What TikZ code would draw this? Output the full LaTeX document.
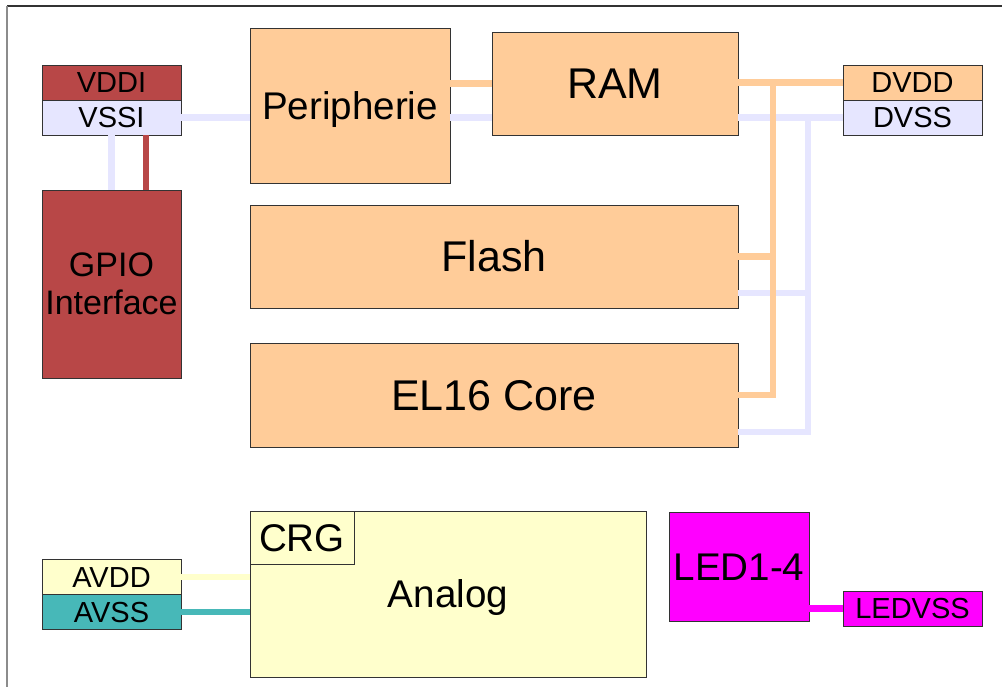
\documentclass[tikz,border=0pt]{standalone}
\usepackage{fontspec}
\setmainfont{Liberation Sans}
\usepackage{tikz}
\usetikzlibrary{calc}
\definecolor{chiporange}{HTML}{FFCC99}
\definecolor{chipred}{HTML}{B84747}
\definecolor{chipblue}{HTML}{E6E6FF}
\definecolor{chipyellow}{HTML}{FFFFCC}
\definecolor{chipteal}{HTML}{47B8B8}
\definecolor{chipmagenta}{HTML}{FF00FF}

\begin{document}
\begin{tikzpicture}[x=1pt, y=-1pt,
  blk/.style={draw=black!80, line width=0.9pt, inner sep=0pt, text depth=0pt},
  pad/.style={blk, minimum width=139pt, minimum height=35pt, font=\fontsize{29}{34}\selectfont, text height=20.8pt},
  midtxt/.style={font=\fontsize{38.6}{44}\selectfont, text height=27.6pt},
  bigtxt/.style={font=\fontsize{43}{50}\selectfont, text height=30.8pt},
  wire/.style={line width=6.5pt}]
  \useasboundingbox (0,0) rectangle (1002,687);
  \draw[black!80, line width=1.3pt] (7,6) -- (1002,6);
  \draw[black!45, line width=1.3pt] (7,6) -- (7,687);

  \node[pad, fill=chipred] (vddi) at (111.5,82.5) {VDDI};
  \node[pad, fill=chipblue] (vssi) at (111.5,117.5) {VSSI};
  \node[blk, fill=chipred, minimum width=139pt, minimum height=188pt, text depth={}, align=center, font=\fontsize{34}{38}\selectfont] (gpio) at (111.5,284) {GPIO\\Interface};
  \node[blk, fill=chiporange, minimum width=200pt, minimum height=155pt, midtxt] (peri) at (350,105.5) {Peripherie};
  \node[blk, fill=chiporange, minimum width=246pt, minimum height=103pt, bigtxt] (ram) at (615,83.5) {RAM};
  \node[pad, fill=chiporange] (dvdd) at (912.5,82.5) {DVDD};
  \node[pad, fill=chipblue] (dvss) at (912.5,117.5) {DVSS};
  \node[blk, fill=chiporange, minimum width=488pt, minimum height=103pt, bigtxt] (flash) at (494,256.5) {Flash};
  \node[blk, fill=chiporange, minimum width=488pt, minimum height=104pt, bigtxt] (core) at (494,395) {EL16 Core};

  \node[pad, fill=chipyellow] (avdd) at (111.5,577) {AVDD};
  \node[pad, fill=chipteal] (avss) at (111.5,612) {AVSS};
  \node[blk, fill=chipyellow, minimum width=396pt, minimum height=166pt, midtxt] (analog) at (448,594) {Analog};
  \node[blk, fill=chipyellow, minimum width=104pt, minimum height=53pt, midtxt, anchor=north west] (crg) at (analog.north west) {CRG};
  \node[blk, fill=chipmagenta, minimum width=140pt, minimum height=109pt, midtxt] (led) at (739,566.5) {LED1-4};
  \node[pad, fill=chipmagenta] (ledvss) at (912.5,608.5) {LEDVSS};

  \coordinate (vddbus) at (773,0);
  \coordinate (vssbus) at (808,0);
  \coordinate (flashvss) at ($(flash.south east)+(0,-15.5)$);
  \coordinate (corevss) at ($(core.south east)+(0,-15.5)$);

  \draw[wire, chipblue] (vssi.south) -- (vssi.south |- gpio.north);
  \draw[wire, chipred] ([xshift=34.5pt]vssi.south) -- ([xshift=34.5pt]gpio.north);
  \draw[wire, chipblue, yshift=-2.5pt] (vssi.east) -- (vssi.east -| peri.west);
  \draw[wire, chipblue, yshift=-2.5pt] (peri.east |- dvss) -- (ram.west |- dvss);
  \draw[wire, chipblue, yshift=-2.5pt] (ram.east |- dvss) -- (dvss.west);
  \draw[wire, chipblue, yshift=-2.5pt] (vssbus |- dvss) |- (corevss);
  \draw[wire, chipblue, yshift=-2.5pt] (flashvss) -- (flashvss -| vssbus);
  \draw[wire, chiporange, yshift=-3pt] (ram.west -| peri.east) -- (ram.west);
  \draw[wire, chiporange, yshift=-3pt] (ram.east |- dvdd) -- (dvdd.west);
  \draw[wire, chiporange, yshift=-3pt] (vddbus |- dvdd) |- (core.east);
  \draw[wire, chiporange, yshift=-3pt] (flash.east) -- (flash.east -| vddbus);

  \draw[wire, chipyellow, yshift=-4pt] (avdd.east) -- (avdd.east -| analog.west);
  \draw[wire, chipteal, yshift=-1pt] (avss.east) -- (avss.east -| analog.west);
  \draw[wire, chipmagenta] (ledvss.west) -- (ledvss.west -| led.east);
\end{tikzpicture}
\end{document}
